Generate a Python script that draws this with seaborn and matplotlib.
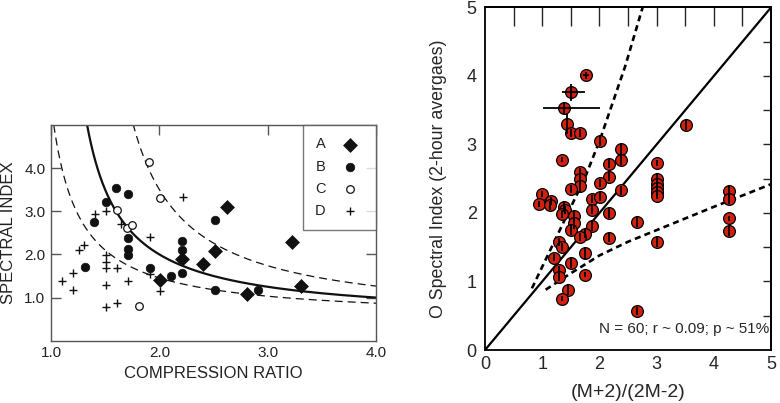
import matplotlib
matplotlib.use("Agg")
import matplotlib.pyplot as plt
import numpy as np
import seaborn as sns

# ──── left panel: spectral index vs compression ratio ────
A_x = [2.01, 2.21, 2.40, 2.51, 2.62, 2.81, 3.22, 3.31]
A_y = [1.41, 1.90, 1.78, 2.07, 3.10, 1.08, 2.28, 1.28]
B_x = [1.31, 1.40, 1.51, 1.60, 1.71, 1.71, 1.71, 1.71, 1.91, 2.11, 2.21, 2.21, 2.21, 2.51, 2.51, 2.91]
B_y = [1.70, 2.76, 3.22, 3.54, 3.40, 2.39, 2.13, 1.98, 1.68, 1.50, 2.31, 2.10, 1.57, 2.79, 1.18, 1.18]
C_x = [1.61, 1.70, 1.75, 1.81, 1.90, 2.01]
C_y = [3.03, 2.61, 2.68, 0.80, 4.15, 3.30]
D_x = [1.10, 1.20, 1.20, 1.26, 1.30, 1.41, 1.51, 1.51, 1.51, 1.51, 1.51, 1.51,
       1.61, 1.61, 1.65, 1.71, 1.91, 1.91, 2.01, 2.22]
D_y = [1.38, 1.18, 1.58, 2.10, 2.21, 2.94, 3.00, 1.98, 1.82, 1.68, 1.29, 0.79,
       1.68, 0.88, 2.70, 1.38, 2.40, 1.54, 1.15, 3.33]

# theory curves  s = c + k / (r - r0)
curve_solid = (0.5, 1.5, 1.0)
curve_upper = (0.45, 2.23, 1.27)
curve_lower = (0.508, 1.17, 0.765)

# ──── right panel: O spectral index vs (M+2)/(2M-2) ────
rx = [1.76, 1.51, 1.38, 1.44, 1.51, 1.66, 2.01, 1.35, 2.38, 2.38,
      2.17, 2.17, 1.66, 1.66, 1.66, 1.51, 2.01, 2.38, 3.00, 3.00,
      3.00, 3.00, 3.00, 3.00, 3.52, 4.26, 4.26, 4.26, 4.26, 0.99,
      0.94, 1.16, 1.14, 1.38, 1.40, 1.34, 1.56, 1.56, 1.51, 1.87,
      2.01, 1.87, 2.17, 1.87, 1.75, 1.66, 2.17, 1.30, 1.34, 1.21,
      1.51, 1.75, 1.30, 1.30, 1.75, 1.45, 1.34, 2.66, 3.00, 2.66]
ry = [4.01, 3.76, 3.53, 3.30, 3.17, 3.17, 3.05, 2.78, 2.94, 2.78,
      2.72, 2.53, 2.60, 2.49, 2.39, 2.35, 2.44, 2.33, 2.73, 2.50,
      2.43, 2.37, 2.31, 2.25, 3.28, 2.32, 2.20, 1.92, 1.74, 2.28,
      2.13, 2.17, 2.11, 2.09, 2.04, 1.99, 1.95, 1.85, 1.75, 2.20,
      2.24, 2.05, 2.00, 1.81, 1.70, 1.65, 1.64, 1.58, 1.50, 1.35,
      1.27, 1.41, 1.17, 1.06, 1.10, 0.88, 0.75, 1.87, 1.58, 0.57]
ry_err = [0.05, 0.13, 0.09, 0.15, 0.06, 0.06, 0.07, 0.03, 0.08, 0.08,
          0.07, 0.07, 0.06, 0.08, 0.08, 0.06, 0.06, 0.07, 0.05, 0.08,
          0.08, 0.08, 0.06, 0.05, 0.07, 0.07, 0.07, 0.04, 0.07, 0.04,
          0.04, 0.06, 0.07, 0.08, 0.06, 0.06, 0.08, 0.08, 0.07, 0.06,
          0.06, 0.07, 0.07, 0.07, 0.06, 0.06, 0.07, 0.06, 0.06, 0.05,
          0.07, 0.08, 0.06, 0.06, 0.04, 0.07, 0.04, 0.07, 0.07, 0.06]
rx_err_lo = [0.05, 0.17, 0.36] + [0.0] * 57
rx_err_hi = [0.05, 0.24, 0.63] + [0.0] * 57

# dashed envelope lines
steep_x = [0.82, 1.25, 1.75, 2.01, 2.45, 2.755]
steep_y = [0.90, 1.65, 2.52, 3.07, 4.14, 5.00]
flat_x = [1.06, 1.50, 2.00, 2.50, 3.00, 4.00, 5.00]
flat_y = [0.88, 1.12, 1.38, 1.58, 1.75, 2.09, 2.42]
diag = [0, 5]

annotation = "N = 60; r ~ 0.09; p ~ 51%"

# ──── style ────
sns.set_theme(style="white")
plt.rcParams["font.family"] = ["Liberation Sans", "DejaVu Sans"]

fig = plt.figure(figsize=(7.8, 4.03), dpi=100)
axL = fig.add_axes([0.0654, 0.1546, 0.4167, 0.535])
axR = fig.add_axes([0.6218, 0.1315, 0.3667, 0.85])

# ──────────────── left ────────────────
grey = "#555555"
ink = "#111111"


def theory(params, r):
    c, k, r0 = params
    return c + k / (r - r0)


r = np.linspace(1.0, 4.0, 600)
for params, ls, lw in [(curve_solid, "-", 1.6), (curve_upper, (0, (6.4, 4)), 0.9),
                       (curve_lower, (0, (6.4, 4)), 0.9)]:
    rr = r[r > params[2] + 1e-3]
    s = theory(params, rr)
    keep = s <= 5.05
    sns.lineplot(x=rr[keep], y=s[keep], ax=axL, color=ink, lw=lw, linestyle=ls,
                 sort=False, estimator=None, legend=False)

sns.scatterplot(x=A_x, y=A_y, ax=axL, marker="D", s=50, color=ink, edgecolor=ink,
                linewidth=0.5, label="A", zorder=3)
sns.scatterplot(x=B_x, y=B_y, ax=axL, marker="o", s=38, color=ink, edgecolor=ink,
                linewidth=0.5, label="B", zorder=3)
sns.scatterplot(x=C_x, y=C_y, ax=axL, marker="o", s=30, facecolor="white", edgecolor=ink,
                linewidth=0.9, label="C", zorder=3)
sns.scatterplot(x=D_x, y=D_y, ax=axL, marker="+", s=36, color=ink,
                linewidth=1.0, label="D", zorder=3)

axL.set_xlim(1, 4)
axL.set_ylim(0, 5)
axL.set_xticks([1, 2, 3, 4])
axL.set_xticklabels(["1.0", "2.0", "3.0", "4.0"])
axL.set_yticks([1, 2, 3, 4])
axL.set_yticklabels(["1.0", "2.0", "3.0", "4.0"])
axL.tick_params(axis="x", direction="in", bottom=False, top=True, labelbottom=True,
                length=7.5, width=1, color=grey, pad=4, labelsize=11, labelcolor="#222222")
axL.tick_params(axis="y", direction="in", left=True, right=True, length=7.5, width=1,
                color=grey, pad=4, labelsize=11, labelcolor="#222222")
for sp in axL.spines.values():
    sp.set_color(grey)
    sp.set_linewidth(1.0)
axL.set_xlabel("COMPRESSION RATIO", fontsize=12, color="#222222")
axL.set_ylabel("SPECTRAL INDEX", fontsize=12, color="#222222")
axL.xaxis.label.set_va("center")
axL.yaxis.label.set_va("center")
axL.xaxis.set_label_coords(0.5, -0.15)
axL.yaxis.set_label_coords(-0.131, 0.5)

leg = axL.legend(loc="upper right", markerfirst=False, frameon=True, fancybox=False,
                 borderaxespad=0, borderpad=0.85, labelspacing=0.55, handletextpad=0.7,
                 handlelength=1.9, fontsize=10.5)
leg.get_frame().set_edgecolor(grey)
leg.get_frame().set_linewidth(1.0)
for t in leg.get_texts():
    t.set_color("#222222")

# ──────────────── right ────────────────
sns.lineplot(x=diag, y=diag, ax=axR, color="black", lw=1.6, legend=False, zorder=2)
sns.lineplot(x=steep_x, y=steep_y, ax=axR, color="black", lw=1.9, linestyle=(0, (2.3, 1.6)),
             sort=False, estimator=None, legend=False, zorder=2)
sns.lineplot(x=flat_x, y=flat_y, ax=axR, color="black", lw=1.9, linestyle=(0, (2.3, 1.6)),
             sort=False, estimator=None, legend=False, zorder=2)

sns.scatterplot(x=rx, y=ry, ax=axR, s=72, color="#d2200f", edgecolor="black",
                linewidth=0.9, zorder=3, legend=False)
axR.errorbar(rx, ry, yerr=ry_err, xerr=[rx_err_lo, rx_err_hi], fmt="none", ecolor="black",
             elinewidth=1.3, capsize=0, zorder=4)

axR.set_xlim(0, 5)
axR.set_ylim(0, 5)
axR.set_xticks(range(6))
axR.set_yticks(range(6))
axR.set_xticks(np.arange(0.5, 5, 0.5), minor=True)
axR.set_yticks(np.arange(0.5, 5, 0.5), minor=True)
axR.tick_params(axis="x", which="major", direction="in", length=14.4, width=1.0,
                top=False, pad=4, labelsize=13)
axR.tick_params(axis="x", which="minor", direction="in", length=7.2, width=1.0, top=False)
axR.tick_params(axis="y", which="both", direction="in", length=12, width=1.0,
                right=False, pad=6)
axR.tick_params(axis="y", which="major", labelsize=13)

secx = axR.secondary_xaxis("top")
secx.set_xticks(np.arange(0.5, 5, 0.5))
secx.tick_params(direction="in", length=13.5, width=1.0, labeltop=False)
secy = axR.secondary_yaxis("right")
secy.set_yticks(np.arange(0.5, 5, 0.5))
secy.tick_params(direction="in", length=6, width=1.0, labelright=False)

for sp in list(axR.spines.values()) + [secx.spines["top"], secy.spines["right"]]:
    sp.set_color("black")
    sp.set_linewidth(1.3)

axR.text(4.97, 0.25, annotation, ha="right", va="baseline", fontsize=11)
axR.set_xlabel("(M+2)/(2M-2)", fontsize=14)
axR.set_ylabel("O Spectral Index (2-hour avergaes)", fontsize=12.8)
axR.xaxis.label.set_va("center")
axR.yaxis.label.set_va("center")
axR.xaxis.set_label_coords(0.5, -0.1226)
axR.yaxis.set_label_coords(-0.164, 0.5)

fig.savefig("out.png", dpi=100)
plt.close(fig)
